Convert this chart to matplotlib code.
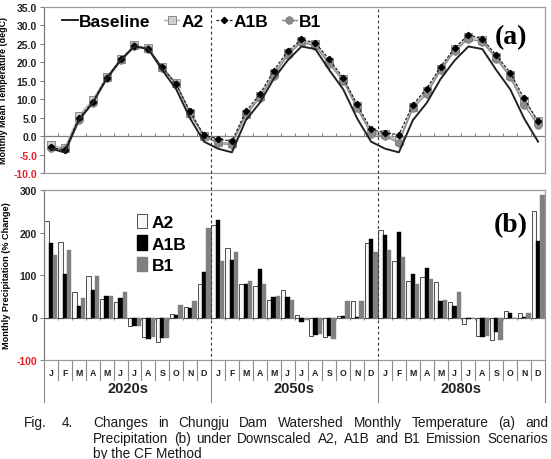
import numpy as np
import matplotlib
matplotlib.use("Agg")
import matplotlib.pyplot as plt
from matplotlib.lines import Line2D
from matplotlib.patches import Patch
import matplotlib.transforms as mtransforms

plt.rcParams['font.family'] = ['Liberation Sans', 'DejaVu Sans']

# ---------------- data ----------------
months = ['J', 'F', 'M', 'A', 'M', 'J', 'J', 'A', 'S', 'O', 'N', 'D']
decades = ['2020s', '2050s', '2080s']

# baseline monthly mean temperature (same baseline shown for each period)
baseline_temp = [-3.4, -4.4, 4.3, 9.0, 15.5, 20.5, 24.3, 23.6, 17.9, 12.7, 4.8, -1.5]

a2_temp = [-2.5, -3.3, 5.5, 9.8, 16.0, 20.8, 24.6, 23.8, 18.7, 14.4, 6.2, 0.1,
           -1.5, -2.0, 6.0, 10.8, 17.0, 22.5, 25.8, 25.0, 20.2, 15.6, 8.2, 1.2,
           0.5, -1.2, 8.0, 12.3, 18.3, 23.5, 27.0, 26.0, 21.5, 16.6, 9.5, 4.0]
a1b_temp = [-3.0, -3.8, 4.8, 9.3, 15.8, 20.8, 24.5, 23.6, 18.6, 14.0, 6.7, 0.2,
            -0.7, -1.4, 6.7, 11.3, 17.7, 23.0, 26.2, 25.3, 20.8, 15.8, 8.6, 1.8,
            0.9, 0.4, 8.5, 12.9, 18.8, 23.9, 27.5, 26.4, 21.9, 17.2, 10.2, 4.0]
b1_temp = [-3.3, -3.6, 4.5, 9.0, 15.8, 20.7, 24.5, 23.7, 18.4, 14.2, 6.0, 0.0,
           -2.0, -2.3, 5.6, 10.4, 16.3, 21.9, 25.5, 24.4, 19.6, 15.0, 7.5, 0.7,
           0.0, -1.8, 7.5, 11.5, 17.8, 23.0, 26.4, 25.5, 21.0, 16.0, 8.5, 2.9]

a2_prec = [226, 177, 59, 98, 43, 37, -19, -46, -58, 8, 24, 78,
           218, 163, 79, 75, 42, 65, 6, -43, -47, 3, 38, 175,
           207, 132, 87, 95, 83, 37, -15, -44, -52, 15, 10, 250]
a1b_prec = [175, 102, 26, 65, 50, 45, -19, -50, -48, 7, 23, 106,
            229, 135, 79, 114, 48, 49, -11, -40, -44, 3, 1, 185,
            194, 202, 102, 116, 40, 26, -4, -47, -33, 11, 1, 179]
b1_prec = [148, 159, 46, 98, 51, 59, -19, -47, -48, 29, 38, 210,
           132, 155, 87, 80, 50, 42, -7, -39, -51, 38, 38, 153,
           160, 143, 79, 91, 42, 59, -1, -43, -53, -2, 10, 289]

temp_ticks = [-10, -5, 0, 5, 10, 15, 20, 25, 30, 35]
prec_ticks = [-100, 0, 100, 200, 300]

caption1_lead = ['Fig.', '4.']
caption1 = 'Changes in Chungju Dam Watershed Monthly Temperature (a) and'
caption2 = 'Precipitation (b) under Downscaled A2, A1B and B1 Emission Scenarios'
caption3 = 'by the CF Method'

# ---------------- figure ----------------
W, H = 551, 460
fig = plt.figure(figsize=(W / 100, H / 100), dpi=100)
fig.patch.set_facecolor('white')

def ax_rect(left, top, right, bottom):
    return [left / W, 1 - bottom / H, (right - left) / W, (bottom - top) / H]

ax1 = fig.add_axes(ax_rect(44, 8, 545, 174))
ax2 = fig.add_axes(ax_rect(44, 191, 545, 361))

n = len(months) * len(decades)
x = np.arange(n)
full_baseline = baseline_temp * len(decades)

frame_col = '#9a9a9a'
for ax in (ax1, ax2):
    ax.set_xlim(-0.5, n - 0.5)
    for s in ax.spines.values():
        s.set_color(frame_col)
        s.set_linewidth(0.9)
    ax.spines['left'].set_color('#7a7a7a')
    ax.set_xticks([])
    ax.tick_params(axis='y', length=3, width=0.7, color='#7a7a7a', pad=2)

# ---- temperature panel ----
ax1.set_ylim(-10, 35)
ax1.axhline(0, color='#808080', lw=0.9, zorder=1)
bounds = np.arange(0, n + 1) - 0.5
ax1.vlines(bounds, 0, 0.8, color='#808080', lw=0.7, zorder=1)

l_a2, = ax1.plot(x, a2_temp, color='#b0b0b0', lw=1.0, marker='s', ms=5.5,
                 mfc='#cfcfcf', mec='#8a8a8a', mew=0.7, zorder=3)
l_b1, = ax1.plot(x, b1_temp, color='#8a8a8a', lw=1.0, marker='o', ms=5.5,
                 mfc='#8c8c8c', mec='#7a7a7a', mew=0.5, zorder=4)
l_a1b, = ax1.plot(x, a1b_temp, color='#111111', lw=0.8, ls=(0, (2.5, 1.5)),
                  marker='D', ms=3.2, mfc='black', mec='black', zorder=5)
l_base, = ax1.plot(x, full_baseline, color='#222222', lw=1.4, zorder=6)

ax1.set_yticks(temp_ticks)
ax1.set_yticklabels(['%.1f' % v for v in temp_ticks], fontsize=7.5, fontweight='bold')
for lab, v in zip(ax1.get_yticklabels(), temp_ticks):
    lab.set_color('#e8202a' if v < 0 else '#222222')
ax1.set_ylabel('Monthly Mean Temperature (degC)', fontsize=6.4, fontweight='bold',
               labelpad=4)

leg1 = ax1.legend([l_base, l_a2, l_a1b, l_b1], ['Baseline', 'A2', 'A1B', 'B1'],
                  ncol=4, loc='upper left', bbox_to_anchor=(0.015, 1.02), frameon=False,
                  prop={'weight': 'bold', 'size': 12.5}, handlelength=0.9,
                  handletextpad=0.1, columnspacing=0.75, borderaxespad=0.2)

ax1.text(0.965, 0.90, '(a)', transform=ax1.transAxes, ha='right', va='top',
         fontsize=20, fontweight='bold', family=['Liberation Serif', 'DejaVu Serif'])

# ---- precipitation panel ----
ax2.set_ylim(-100, 300)
ax2.axhline(0, color='#808080', lw=0.9, zorder=1)
ax2.vlines(bounds, -7, 0, color='#808080', lw=0.7, zorder=1)
bw = 0.31
ax2.bar(x - bw, a2_prec, width=bw, color='#f7f7f7', edgecolor='#333333', lw=0.6, zorder=2)
ax2.bar(x, a1b_prec, width=bw, color='#000000', edgecolor='#000000', lw=0.3, zorder=2)
ax2.bar(x + bw, b1_prec, width=bw, color='#808080', edgecolor='#808080', lw=0.3, zorder=2)

ax2.set_yticks(prec_ticks)
ax2.set_yticklabels([str(v) for v in prec_ticks], fontsize=7.5, fontweight='bold')
for lab, v in zip(ax2.get_yticklabels(), prec_ticks):
    lab.set_color('#e8202a' if v < 0 else '#222222')
ax2.set_ylabel('Monthly Precipitation (% Change)', fontsize=6.6, fontweight='bold',
               labelpad=4)

h2 = [Patch(facecolor='#f7f7f7', edgecolor='#333333', lw=0.6),
      Patch(facecolor='#000000', edgecolor='#000000'),
      Patch(facecolor='#808080', edgecolor='#808080')]
ax2.legend(h2, ['A2', 'A1B', 'B1'], loc='upper left', bbox_to_anchor=(0.165, 0.92),
           frameon=False, prop={'weight': 'bold', 'size': 12.5}, handlelength=0.55,
           handleheight=0.9, handletextpad=0.3, labelspacing=0.3, borderaxespad=0.2)

ax2.text(0.965, 0.87, '(b)', transform=ax2.transAxes, ha='right', va='top',
         fontsize=20, fontweight='bold', family=['Liberation Serif', 'DejaVu Serif'])

# ---- category axis (months boxed, decades below) ----
trans = mtransforms.blended_transform_factory(ax2.transData, ax2.transAxes)
ph = 170.0
for k, b in enumerate(bounds):
    depth = (403 - 361) / ph if k % 12 == 0 else (381 - 361) / ph
    ax2.plot([b, b], [0, -depth], transform=trans, color='#8a8a8a', lw=0.8,
             clip_on=False)
for i in range(n):
    ax2.text(i, -(373 - 361) / ph, months[i % 12], transform=trans, ha='center',
             va='center', fontsize=6.3, fontweight='bold', color='#222222')
for d, name in enumerate(decades):
    ax2.text(d * 12 + 5.5, -(389 - 361) / ph, name, transform=trans, ha='center',
             va='center', fontsize=10.5, fontweight='bold', color='#222222')

# ---- dashed decade separators crossing both panels ----
for d in (1, 2):
    xd = (44 + 501 * (d * 12) / n) / W
    fig.add_artist(Line2D([xd, xd], [1 - 10 / H, 1 - 361 / H], transform=fig.transFigure,
                          color='#333333', lw=0.8, ls=(0, (2.5, 2.5))))

# ---------------- caption (justified) ----------------
cap_size = 9.8
renderer = fig.canvas.get_renderer()

def place_justified(words, ypx, x0, x1):
    texts = [fig.text(0, 1 - ypx / H, w, fontsize=cap_size, va='center', ha='left',
                      color='#1a1a1a') for w in words]
    widths = [t.get_window_extent(renderer).width for t in texts]
    gap = (x1 - x0 - sum(widths)) / max(len(words) - 1, 1)
    xx = x0
    for t, w in zip(texts, widths):
        t.set_x(xx / W)
        xx += w + gap

fig.text(24 / W, 1 - 423 / H, caption1_lead[0], fontsize=cap_size, va='center', color='#1a1a1a')
fig.text(62 / W, 1 - 423 / H, caption1_lead[1], fontsize=cap_size, va='center', color='#1a1a1a')
place_justified(caption1.split(), 423, 93, 548)
place_justified(caption2.split(), 439, 93, 548)
fig.text(93 / W, 1 - 454 / H, caption3, fontsize=cap_size, va='center', color='#1a1a1a')

fig.savefig('out.png', dpi=100)
